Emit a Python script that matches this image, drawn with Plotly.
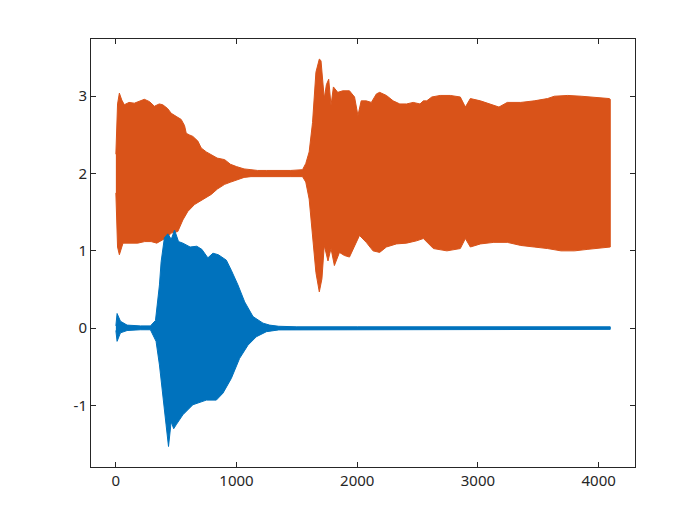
import plotly.graph_objects as go

# ---- data (envelopes of the two dense signals) ----
orange_upper_x = [1, 15, 30, 50, 71, 110, 154, 200, 237, 280, 320, 360, 389, 430, 459, 500,
                  542, 570, 584, 610, 639, 680, 708, 750, 791, 840, 902, 950, 1000, 1063, 1120,
                  1174, 1250, 1350, 1450, 1547, 1574, 1602, 1630, 1658, 1686, 1700, 1708, 1727,
                  1745, 1764, 1783, 1803, 1839, 1880, 1936, 1978, 2006, 2033, 2075, 2117, 2159,
                  2186, 2242, 2298, 2353, 2409, 2464, 2520, 2548, 2576, 2618, 2687, 2771, 2854,
                  2896, 2937, 3021, 3104, 3174, 3243, 3355, 3466, 3577, 3633, 3744, 3855, 3967,
                  4086, 4096]
orange_upper = [2.25, 2.90, 3.04, 2.95, 2.89, 2.92, 2.91, 2.94, 2.96, 2.93, 2.87, 2.90, 2.89,
                2.84, 2.78, 2.74, 2.70, 2.62, 2.52, 2.50, 2.48, 2.42, 2.33, 2.28, 2.24, 2.20,
                2.18, 2.12, 2.09, 2.06, 2.05, 2.04, 2.04, 2.04, 2.04, 2.05, 2.13, 2.28, 2.66,
                3.31, 3.48, 3.46, 3.30, 2.97, 3.15, 3.22, 2.88, 3.12, 3.05, 3.07, 3.07, 2.99,
                2.75, 2.94, 2.94, 2.92, 3.03, 3.05, 3.01, 2.94, 2.90, 2.90, 2.92, 2.90, 2.94,
                2.94, 2.99, 3.01, 3.01, 2.99, 2.86, 2.97, 2.94, 2.90, 2.86, 2.92, 2.92, 2.94,
                2.97, 3.00, 3.01, 3.00, 2.99, 2.97, 2.96]

orange_lower_x = [1, 15, 30, 60, 110, 182, 240, 293, 340, 389, 430, 459, 514, 556, 597, 653,
                  708, 760, 791, 842, 902, 953, 1000, 1063, 1120, 1174, 1250, 1350, 1450, 1547,
                  1574, 1602, 1630, 1658, 1686, 1708, 1727, 1758, 1783, 1811, 1853, 1894, 1936,
                  1978, 2019, 2075, 2131, 2186, 2242, 2325, 2409, 2492, 2548, 2631, 2743, 2854,
                  2896, 2937, 3021, 3132, 3243, 3355, 3466, 3577, 3688, 3800, 3911, 4096]
orange_lower = [1.75, 1.05, 0.95, 1.10, 1.10, 1.10, 1.12, 1.12, 1.10, 1.14, 1.18, 1.23, 1.25,
                1.40, 1.51, 1.60, 1.66, 1.70, 1.73, 1.80, 1.86, 1.89, 1.92, 1.95, 1.96, 1.96,
                1.96, 1.96, 1.96, 1.96, 1.89, 1.67, 1.24, 0.72, 0.47, 0.64, 1.07, 0.87, 1.03,
                0.81, 0.98, 0.94, 0.92, 1.07, 1.20, 1.11, 1.00, 0.98, 1.05, 1.09, 1.10, 1.13,
                1.16, 1.03, 1.00, 1.03, 1.16, 1.05, 1.09, 1.11, 1.11, 1.07, 1.05, 1.03, 1.00,
                1.00, 1.02, 1.05]

blue_upper_x = [1, 11, 39, 94, 204, 287, 329, 362, 376, 403, 431, 460, 487, 520, 556, 616, 671,
                694, 713, 763, 805, 850, 916, 957, 1012, 1068, 1137, 1220, 1275, 1350, 1500,
                2000, 3000, 4096]
blue_upper = [0.03, 0.19, 0.09, 0.04, 0.03, 0.03, 0.10, 0.56, 0.86, 1.17, 1.22, 1.15, 1.27,
              1.12, 1.10, 1.05, 1.06, 1.04, 1.02, 0.91, 0.97, 0.95, 0.88, 0.75, 0.56, 0.34,
              0.15, 0.065, 0.04, 0.025, 0.018, 0.018, 0.018, 0.018]

blue_lower_x = [1, 11, 39, 94, 204, 287, 334, 362, 390, 417, 437, 459, 480, 500, 556, 639, 750,
                833, 888, 957, 1026, 1095, 1165, 1248, 1350, 1500, 2000, 3000, 4096]
blue_lower = [-0.03, -0.17, -0.06, -0.03, -0.02, -0.02, -0.17, -0.475, -0.86, -1.25, -1.53,
              -1.21, -1.30, -1.25, -1.12, -0.99, -0.93, -0.93, -0.84, -0.65, -0.39, -0.22,
              -0.11, -0.045, -0.022, -0.015, -0.015, -0.015, -0.015]

x_ticks = [0, 1000, 2000, 3000, 4000]
y_ticks = [-1, 0, 1, 2, 3]

ORANGE = "#D95319"
BLUE = "#0072BD"
AXIS = "#262626"


def band(xu, yu, xl, yl, color):
    return go.Scatter(
        x=list(xu) + list(reversed(xl)),
        y=list(yu) + list(reversed(yl)),
        mode="lines",
        fill="toself",
        fillcolor=color,
        line=dict(color=color, width=1.0),
        hoverinfo="skip",
        showlegend=False,
    )


fig = go.Figure()
fig.add_trace(band(orange_upper_x, orange_upper, orange_lower_x, orange_lower, ORANGE))
fig.add_trace(band(blue_upper_x, blue_upper, blue_lower_x, blue_lower, BLUE))

axis_common = dict(
    showgrid=False, zeroline=False, showline=True, linecolor=AXIS, linewidth=1,
    mirror="ticks", ticks="inside", ticklen=5, tickcolor=AXIS, tickwidth=1,
    tickfont=dict(family="Noto Sans", size=15, color=AXIS),
)
fig.update_xaxes(range=[-205, 4301], tickvals=x_ticks,
                 ticktext=[str(v) for v in x_ticks], **axis_common)
fig.update_yaxes(range=[-1.795, 3.74], tickvals=y_ticks,
                 ticktext=[str(v) for v in y_ticks], **axis_common)

# the page body has an 8px margin, so the plot area is offset to land at
# x 91..635, y 39..467 in the 700x525 window
fig.update_layout(
    width=700, height=525,
    margin=dict(l=83, r=73, t=31, b=66),
    paper_bgcolor="white", plot_bgcolor="white",
    showlegend=False,
)

fig.write_html("out.html")
